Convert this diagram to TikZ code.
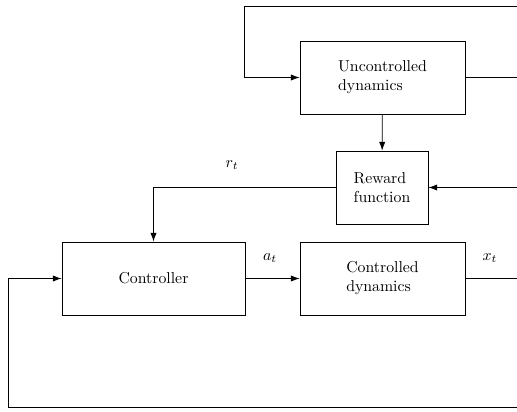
\documentclass[tikz,border=0pt]{standalone}
\usepackage{amsmath}
\usepackage{tikz}
\usetikzlibrary{arrows.meta}

\begin{document}
\begin{tikzpicture}[x=0.633pt,y=-0.633pt,>={Latex[length=5.6pt,width=4pt]},line width=0.5pt,
		block/.style={draw, align=left, minimum height=46.2pt, inner sep=0pt}]
			\useasboundingbox (0,0) rectangle (517,412);
			\node[block, minimum width=104.4pt] (unc) at (382.5,77.5) {Uncontrolled\\dynamics};
			\node[block, minimum width=58.2pt] (rew) at (382,187.5) {Reward\\function};
			\node[block, minimum width=115.8pt] (ctrl) at (153.5,278.5) {Controller};
			\node[block, minimum width=104.4pt] (cdyn) at (382.5,278.5) {Controlled\\dynamics};

			\node (rt) at (232,165) {$r_t$};
			\node (at) at (270,258) {$a_t$};
			\node (xt) at (490,258) {$x_t$};

			\coordinate (topend) at (517,6);
			\coordinate (topcorner) at (244,6);
			\coordinate (uncend) at (517,77.5);
			\coordinate (rewin) at (517,187.5);
			\coordinate (xend) at (517,278.5);
			\coordinate (botend) at (517,407);
			\coordinate (botcorner) at (8,407);

			\draw[->] (topend) -- (topcorner) |- (unc.west);
			\draw (unc.east) -- (uncend);
			\draw[->] (unc) -- (rew);
			\draw[->] (rewin) -- (rew.east);
			\draw[->] (rew.west) -| (ctrl.north);
			\draw[->] (ctrl) -- (cdyn);
			\draw (cdyn.east) -- (xend);
			\draw[->] (botend) -- (botcorner) |- (ctrl.west);
		\end{tikzpicture}
\end{document}
